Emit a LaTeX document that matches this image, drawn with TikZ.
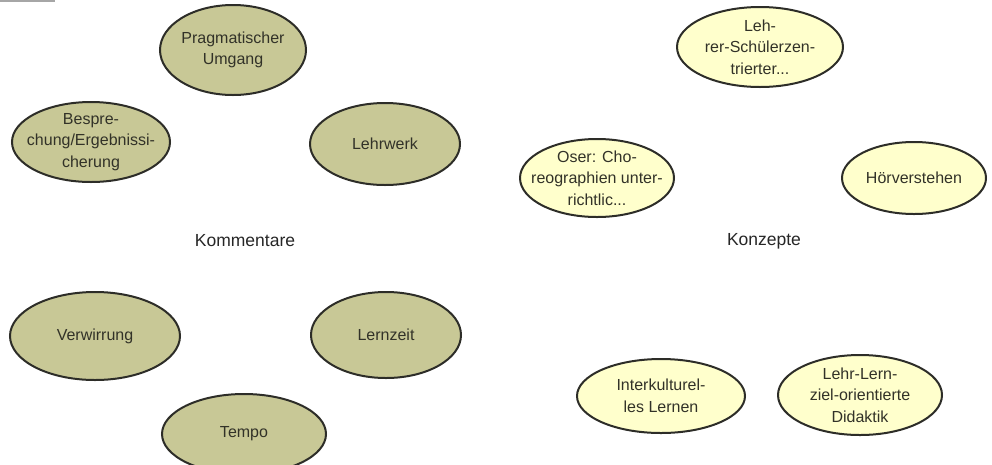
\documentclass[tikz,border=0pt]{standalone}
\usepackage{fontspec}
\setmainfont{Liberation Sans}
\usetikzlibrary{shapes.geometric}
\definecolor{olivefill}{RGB}{200,200,150}
\definecolor{paleyellow}{RGB}{255,255,204}
\definecolor{edgecol}{RGB}{45,45,40}
\definecolor{txtcol}{RGB}{50,50,40}
\tikzset{
  bubble/.style={ellipse, draw=edgecol, line width=2pt, inner sep=0pt},
  bubbletext/.style={text=txtcol, align=center, inner sep=0pt,
    font=\fontsize{16}{21.5}\selectfont},
  bt/.style={label={[bubbletext]center:{#1}}},
  comment/.style={bubble, fill=olivefill},
  concept/.style={bubble, fill=paleyellow},
  heading/.style={text=black!85, font=\fontsize{17.5}{20}\selectfont}
}
\begin{document}
\begin{tikzpicture}[x=1pt,y=-1pt]
\useasboundingbox (0,0) rectangle (992,464);
\fill[gray!70] (0,0) rectangle (55,2) ;
% Kommentare
\node[heading] (kom) at (245,241) {Kommentare};
\node[comment, minimum width=146pt, minimum height=90pt, bt={Pragmatischer\\Umgang}] (prag) at (233,50) {};
\node[comment, minimum width=158pt, minimum height=80pt, bt={Bespre-\\chung/Ergebnissi-\\cherung}] (besp) at (91,142) {};
\node[comment, minimum width=150pt, minimum height=82pt, bt={Lehrwerk}] (lehrw) at (385,144) {};
\node[comment, minimum width=170pt, minimum height=88pt, bt={Verwirrung}] (verw) at (95,336) {};
\node[comment, minimum width=150pt, minimum height=86pt, bt={Lernzeit}] (lernz) at (386,335) {};
\node[comment, minimum width=164pt, minimum height=80pt, bt={Tempo}] (tempo) at (244,434) {};
% Konzepte
\node[heading] (konz) at (764,241) {Konzepte};
\node[concept, minimum width=166pt, minimum height=80pt, bt={Leh-\\rer-Schülerzen-\\trierter...}] (lsz) at (760,47) {};
\node[concept, minimum width=154pt, minimum height=78pt, bt={Oser: Cho-\\reographien unter-\\richtlic...}] (oser) at (597,178) {};
\node[concept, minimum width=144pt, minimum height=72pt, bt={Hörverstehen}] (hoer) at (914,178) {};
\node[concept, minimum width=168pt, minimum height=74pt, bt={Interkulturel-\\les Lernen}] (ikl) at (661,396) {};
\node[concept, minimum width=164pt, minimum height=80pt, bt={Lehr-Lern-\\ziel-orientierte\\Didaktik}] (llz) at (860,395) {};
\end{tikzpicture}
\end{document}
